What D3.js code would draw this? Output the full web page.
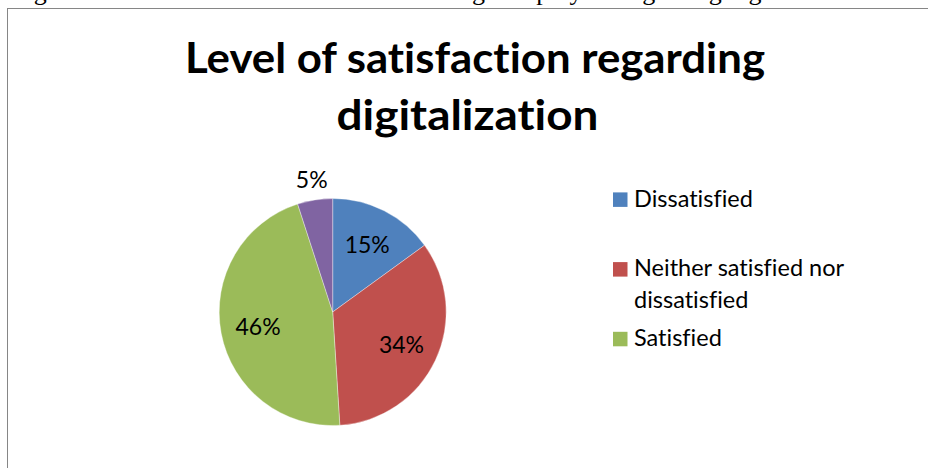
<!DOCTYPE html>
<html>
<head>
<meta charset="utf-8">
<script src="https://cdn.jsdelivr.net/npm/d3@7"></script>
<style>
  html, body { margin: 0; padding: 0; background: #fff; overflow: hidden; }
  svg { display: block; }
  text { font-variant-ligatures: none; font-feature-settings: "liga" 0, "clig" 0; }
</style>
</head>
<body>
<svg id="chart" width="928" height="468"></svg>
<script>
// Survey result: satisfaction with digitalization
const titleLines = ["Level of satisfaction regarding", "digitalization"];
const categories = ["Dissatisfied", "Neither satisfied nor dissatisfied", "Satisfied", "Very satisfied"];
const shares = [15, 34, 46, 5];
const colors = ["#4F81BD", "#C0504D", "#9BBB59", "#8064A2"];
const legendCount = 3; // entries that fit in the legend box
const captionText = "Figure 6: Level of satisfaction of Glass Design employees regarding digitalization";

const svg = d3.select("#chart");
const font = "Lato, 'Open Sans', sans-serif";

// caption line of the surrounding document, cut off by the top edge
svg.append("text")
  .attr("x", 12).attr("y", 0)
  .attr("font-family", "'Liberation Serif', 'Times New Roman', serif")
  .attr("font-size", 26)
  .attr("fill", "#000")
  .text(captionText);

// chart area frame (runs past the right and bottom edges)
svg.append("rect")
  .attr("x", 7.5).attr("y", 8.5)
  .attr("width", 1000).attr("height", 1000)
  .attr("fill", "#fff")
  .attr("stroke", "#868686").attr("stroke-width", 1);

// helper: squeeze a text element to a given width
function fitWidth(sel, w) {
  const len = sel.node().getComputedTextLength();
  if (Math.abs(len - w) > 1) sel.attr("textLength", w).attr("lengthAdjust", "spacingAndGlyphs");
}

// title
const titleSpec = [{cx: 475, y: 73, w: 580}, {cx: 467.5, y: 130, w: 262}];
titleLines.forEach((t, i) => {
  const s = titleSpec[i];
  const el = svg.append("text")
    .attr("x", s.cx).attr("y", s.y)
    .attr("text-anchor", "middle")
    .attr("font-family", font).attr("font-weight", 700)
    .attr("font-size", 41.5).attr("fill", "#000")
    .text(t);
  fitWidth(el, s.w);
});

// pie
const cx = 332.7, cy = 312, radius = 113.5;
const pie = d3.pie().sort(null).value(d => d);
const arcs = pie(shares);
const arc = d3.arc().innerRadius(0).outerRadius(radius);
const g = svg.append("g").attr("transform", `translate(${cx},${cy})`);

g.selectAll("path.slice")
  .data(arcs)
  .join("path")
  .attr("class", "slice")
  .attr("d", arc)
  .attr("fill", (d, i) => colors[i])
  .attr("stroke", "#ffffff").attr("stroke-width", 0.6).attr("stroke-opacity", 0.6);

// percentage labels: inside for large slices, outside for small ones
const inner = d3.arc().innerRadius(76).outerRadius(76);
const outer = d3.arc().innerRadius(134).outerRadius(134);
const fmt = d3.format(".0%");
g.selectAll("text.pct")
  .data(arcs)
  .join("text")
  .attr("class", "pct")
  .attr("transform", d => {
    const c = (d.data < 10 ? outer : inner).centroid(d);
    return `translate(${c[0]},${c[1]})`;
  })
  .attr("dy", "0.36em")
  .attr("text-anchor", "middle")
  .attr("font-family", font).attr("font-size", 23)
  .attr("fill", "#000")
  .text(d => fmt(d.data / d3.sum(shares)));

// legend
const legend = svg.append("g").attr("transform", "translate(613,0)");
const firstBaseline = 206.7, step = 69.7, lineGap = 32, sw = 14.5, wrapWidth = 250;
const legendSize = 23.5;
categories.slice(0, legendCount).forEach((name, i) => {
  const y0 = firstBaseline + i * step;
  legend.append("rect")
    .attr("x", 0).attr("y", y0 - 14.3)
    .attr("width", sw).attr("height", sw)
    .attr("fill", colors[i]);
  // wrap label into lines that fit the legend width
  const words = name.split(" ");
  const lines = [];
  let cur = "";
  const probe = legend.append("text").attr("font-family", font).attr("font-size", legendSize);
  words.forEach(w => {
    const test = cur ? cur + " " + w : w;
    probe.text(test);
    if (probe.node().getComputedTextLength() > wrapWidth && cur) { lines.push(cur); cur = w; }
    else cur = test;
  });
  lines.push(cur);
  probe.remove();
  lines.forEach((ln, j) => {
    legend.append("text")
      .attr("x", 21).attr("y", y0 + j * lineGap)
      .attr("font-family", font).attr("font-size", legendSize)
      .attr("fill", "#000")
      .text(ln);
  });
});
</script>
</body>
</html>
